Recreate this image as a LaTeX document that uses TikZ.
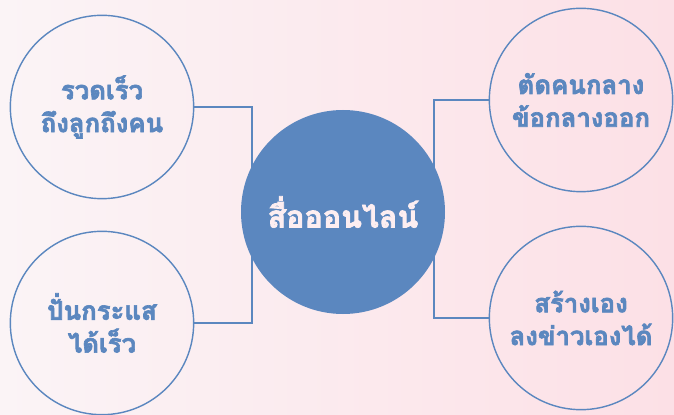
\documentclass[tikz,border=0pt]{standalone}
\usepackage{fontspec}
\newfontfamily\thaifont[Script=Thai, BoldFeatures={FakeBold=2.5}]{Loma}
\usetikzlibrary{positioning}
\definecolor{steel}{HTML}{5B87BF}
\definecolor{bgleft}{HTML}{FBF4F6}
\definecolor{bgright}{HTML}{FCE0E6}
\definecolor{blush}{HTML}{FDEEF1}

\begin{document}
\begin{tikzpicture}[
  hub/.style={circle, fill=steel, minimum size=6.12cm, inner sep=0pt, align=center, text=blush, font=\thaifont\bfseries\fontsize{26}{30}\selectfont},
  topic/.style={circle, draw=steel, line width=1.2pt, minimum size=5.5cm, inner sep=0pt, align=center, text=steel, font=\thaifont\bfseries\fontsize{22}{28}\selectfont},
  link/.style={draw=steel, line width=1.3pt},
]

% background
\shade[left color=bgleft, right color=bgright] (-10.29,-6.06) rectangle (9.93,6.36);
\useasboundingbox (-10.29,-6.06) rectangle (9.93,6.36);

\node[topic] (fast) at (-7.23, 3.15) {รวดเร็ว\\ถึงลูกถึงคน};
\node[topic] (viral) at (-7.23, -3.33) {ปั่นกระแส\\ได้เร็ว};
\node[topic] (direct) at (7.14, 3.36) {ตัดคนกลาง\\ข้อกลางออก};
\node[topic] (self) at (7.14, -3.18) {สร้างเอง\\ลงข่าวเองได้};

\coordinate (spineL) at (-2.73, 0);
\coordinate (spineR) at (2.73, 0);
\draw[link] (fast.east) -| (spineL) |- (viral.east);
\draw[link] (direct.west) -| (spineR) |- (self.west);

\node[hub] (media) at (0, 0) {สื่อออนไลน์};

\end{tikzpicture}
\end{document}
